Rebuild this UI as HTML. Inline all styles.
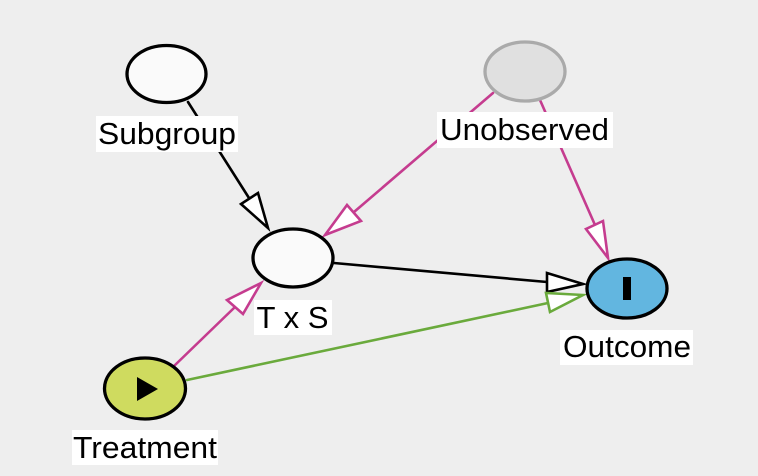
<!DOCTYPE html>
<html>
<head>
<meta charset="utf-8">
<style>
  html, body { margin: 0; padding: 0; background: #eeeeee; }
  svg { display: block; }
  text { font-family: "Liberation Sans", Arial, sans-serif; font-size: 30.5px; fill: #000; }
</style>
</head>
<body>
<svg width="758" height="476" viewBox="0 0 758 476" xmlns="http://www.w3.org/2000/svg">
  <rect x="0" y="0" width="758" height="476" fill="#eeeeee"/>

  <!-- Edges -->
  <g fill="none" stroke-width="2.6" stroke-linecap="round">
    <line x1="188" y1="102" x2="249" y2="198" stroke="#000"/>
    <line x1="493" y1="93" x2="354" y2="212" stroke="#c53c8f"/>
    <line x1="540" y1="100" x2="595" y2="225" stroke="#c53c8f"/>
    <line x1="334" y1="263" x2="547" y2="282" stroke="#000"/>
    <line x1="187" y1="380" x2="548" y2="303" stroke="#6aaa3c"/>
    <line x1="173" y1="367" x2="235" y2="307" stroke="#c53c8f"/>
  </g>

  <!-- Arrowheads -->
  <g fill="#ffffff" stroke-width="2.6" stroke-linejoin="miter">
    <polygon points="268,228 241,204 258,193" stroke="#000"/>
    <polygon points="325,235 347,205 361,221" stroke="#c53c8f"/>
    <polygon points="608,258 586,229 603,221" stroke="#c53c8f"/>
    <polygon points="583,284 547,273 547,292" stroke="#000"/>
    <polygon points="583,295 546,293 550,312" stroke="#6aaa3c"/>
    <polygon points="261,283 227,300 243,314" stroke="#c53c8f"/>
  </g>

  <!-- Nodes -->
  <ellipse cx="166.5" cy="74" rx="39.5" ry="28.5" fill="#fafafa" stroke="#000" stroke-width="3.3"/>
  <ellipse cx="525" cy="71.5" rx="40" ry="29.5" fill="#e0e0e0" stroke="#aaaaaa" stroke-width="3.3"/>
  <ellipse cx="293" cy="258" rx="40" ry="29" fill="#fafafa" stroke="#000" stroke-width="3.3"/>
  <ellipse cx="627" cy="288.5" rx="40" ry="29.5" fill="#62b6e0" stroke="#000" stroke-width="3.3"/>
  <rect x="623" y="277" width="8" height="23" fill="#000"/>
  <ellipse cx="145" cy="388.5" rx="40.5" ry="30.5" fill="#cfdb5f" stroke="#000" stroke-width="3.3"/>
  <polygon points="137,377 137,401 158,389" fill="#000"/>

  <!-- Labels -->
  <rect x="96" y="116" width="142" height="36" fill="#ffffff"/>
  <text x="98" y="144" textLength="138" lengthAdjust="spacingAndGlyphs">Subgroup</text>

  <rect x="437" y="112" width="176" height="36" fill="#ffffff"/>
  <text x="440" y="140" textLength="169" lengthAdjust="spacingAndGlyphs">Unobserved</text>

  <rect x="254" y="300" width="78" height="35" fill="#ffffff"/>
  <text x="256.5" y="328" textLength="72" lengthAdjust="spacingAndGlyphs">T x S</text>

  <rect x="560" y="330" width="133" height="35" fill="#ffffff"/>
  <text x="563" y="357" textLength="128" lengthAdjust="spacingAndGlyphs">Outcome</text>

  <rect x="72" y="430" width="146" height="35" fill="#ffffff"/>
  <text x="73" y="458" textLength="144" lengthAdjust="spacingAndGlyphs">Treatment</text>
</svg>
</body>
</html>
